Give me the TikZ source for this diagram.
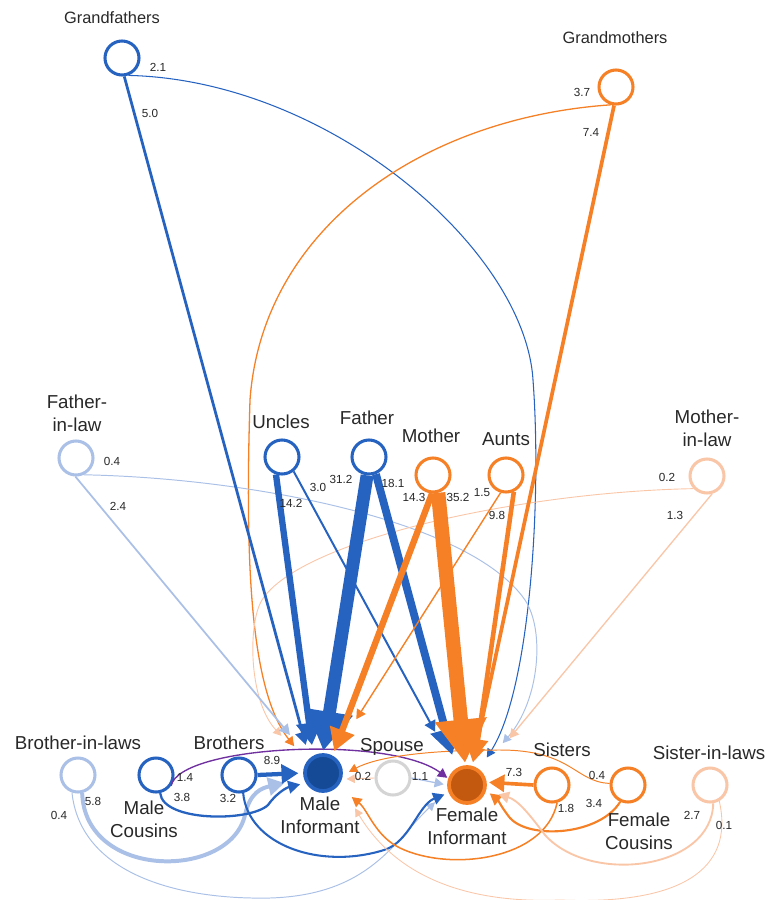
\documentclass[tikz,border=0pt]{standalone}
\usepackage{fontspec}
\setmainfont{Liberation Sans}
\usetikzlibrary{arrows.meta}

\definecolor{blu}{RGB}{38,98,192}
\definecolor{arancio}{RGB}{245,128,37}
\definecolor{azzurro}{RGB}{170,192,230}
\definecolor{pesca}{RGB}{250,198,168}
\definecolor{grigio}{RGB}{212,212,212}
\definecolor{blunotte}{RGB}{20,74,150}
\definecolor{ruggine}{RGB}{195,88,15}
\definecolor{viola}{RGB}{112,48,160}
\definecolor{testo}{RGB}{40,40,40}

\tikzset{
  kin/.style={circle, minimum size=1.02cm, inner sep=0pt, line width=2.6pt, fill=white},
  ego/.style={circle, minimum size=1.08cm, inner sep=0pt, line width=3.2pt},
  nome/.style={font=\fontsize{16}{19.5}\selectfont, text=testo, align=center, inner sep=0pt},
  nonno/.style={font=\fontsize{14}{17}\selectfont, text=testo, inner sep=0pt},
  val/.style={font=\fontsize{10}{12}\selectfont, text=testo, inner sep=0pt},
  freccia/.style={-{Triangle[length=5pt 2.6, width=5pt 3]}}
}

\begin{document}
\begin{tikzpicture}[x=0.03cm, y=-0.03cm]
\useasboundingbox (0,0) rectangle (768,900);

% nonni
\node[kin, draw=blu] (gf) at (122,58) {};
\node[kin, draw=arancio] (gm) at (616,87) {};

% genitori, zii, suoceri
\node[kin, draw=azzurro] (fil) at (76,458) {};
\node[kin, draw=blu] (unc) at (282,457) {};
\node[kin, draw=blu] (fat) at (369,457) {};
\node[kin, draw=arancio] (mot) at (433,475) {};
\node[kin, draw=arancio] (aun) at (506,475) {};
\node[kin, draw=pesca] (mil) at (707,476) {};

% stessa generazione
\node[kin, draw=azzurro] (bil) at (78,775) {};
\node[kin, draw=blu] (mc) at (156,775) {};
\node[kin, draw=blu] (bro) at (239,775) {};
\node[ego, draw=blu, fill=blunotte] (mi) at (323,773) {};
\node[kin, draw=grigio] (sp) at (393,778) {};
\node[ego, draw=arancio, fill=ruggine] (fi) at (467,785) {};
\node[kin, draw=arancio] (sis) at (552,785) {};
\node[kin, draw=arancio] (fc) at (628,785) {};
\node[kin, draw=pesca] (sil) at (710,785) {};

% archi curvi
\draw[freccia, blu, line width=0.9pt, shorten >=12pt] (gf.-70) .. controls (330,80) and (525,250) .. (533,380) .. controls (542,500) and (530,690) .. (fi.52);
\draw[freccia, arancio, line width=1.1pt, shorten >=17pt] (gm.-106) .. controls (420,118) and (262,230) .. (250,400) .. controls (245,560) and (250,690) .. (mi.146);
\draw[freccia, azzurro, line width=0.83pt, shorten >=30pt] (fil.-65) .. controls (250,478) and (470,520) .. (525,600) .. controls (545,630) and (540,700) .. (fi.50);
\draw[freccia, pesca, line width=0.77pt, shorten >=31pt] (mil.-137) .. controls (520,492) and (300,540) .. (262,600) .. controls (248,622) and (248,700) .. (mi.148);
\draw[freccia, azzurro, line width=3.4pt, shorten >=17pt] (bil.-77) .. controls (85,880) and (230,880) .. (245,815) .. controls (250,792) and (262,788) .. (mi.-164);
\draw[freccia, azzurro, line width=0.83pt, shorten >=15pt] (bil.-109) .. controls (80,870) and (170,900) .. (270,898) .. controls (370,895) and (395,840) .. (fi.-165);
\draw[freccia, viola, line width=1.16pt, shorten >=1pt] (mc.-35) .. controls (180,745) and (390,735) .. (fi.161);
\draw[freccia, blu, line width=1.95pt, shorten >=5pt] (mc.-77) .. controls (163,822) and (250,822) .. (268,805) .. controls (275,795) and (285,788) .. (mi.-150);
\draw[freccia, blu, line width=1.76pt, shorten >=4pt] (bro.-77) .. controls (248,845) and (320,870) .. (384,850) .. controls (410,842) and (418,805) .. (fi.-157);
\draw[freccia, arancio, line width=1.29pt, shorten >=15pt] (sis.-74) .. controls (545,860) and (450,872) .. (400,848) .. controls (375,836) and (368,810) .. (mi.-41);
\draw[freccia, arancio, line width=1.82pt, shorten >=4pt] (fc.-115) .. controls (600,835) and (530,840) .. (510,818) .. controls (502,808) and (498,800) .. (fi.-16);
\draw[freccia, arancio, line width=0.83pt, shorten >=6pt] (fc.175) .. controls (575,782) and (572,750) .. (500,750) .. controls (420,750) and (375,758) .. (mi.-6);
\draw[freccia, pesca, line width=1.59pt, shorten >=11pt] (sil.-80) .. controls (712,870) and (590,885) .. (545,835) .. controls (530,815) and (518,800) .. (fi.-17);
\draw[freccia, pesca, line width=0.73pt, shorten >=25pt] (sil.-60) .. controls (735,870) and (680,905) .. (560,900) .. controls (430,905) and (380,850) .. (mi.-31);

% archi diritti
\draw[freccia, blu, line width=2.35pt, shorten >=12pt] (gf.-83) -- (mi.133);
\draw[freccia, arancio, line width=3.14pt, shorten >=3pt] (gm.-96) -- (fi.75);
\draw[freccia, azzurro, line width=1.49pt, shorten >=26pt] (fil.-92) -- (mi.133);
\draw[freccia, pesca, line width=1.13pt, shorten >=37pt] (mil.-74) -- (fi.42);
\draw[freccia, blu, line width=1.69pt, shorten >=36pt] (unc.-51) -- (fi.126);
\draw[freccia, blu, line width=5.39pt, shorten >=9pt] (unc.-109) -- (mi.119);
\draw[freccia, blu, line width=6.67pt, shorten >=12pt] (fat.-68) -- (fi.124);
\draw[freccia, blu, line width=11pt, shorten >=2pt] (fat.-96) -- (mi.90);
\draw[freccia, arancio, line width=1.2pt, shorten >=37pt] (aun.-107) -- (mi.60);
\draw[freccia, arancio, line width=3.93pt, shorten >=8pt] (aun.-65) -- (fi.69);
\draw[freccia, arancio, line width=5.42pt, shorten >=4pt] (mot.-93) -- (mi.61);
\draw[freccia, arancio, line width=12.3pt, shorten >=2pt] (mot.-74) -- (fi.95);
\draw[freccia, blu, line width=3.64pt, shorten >=4pt] (bro.0) -- (mi.180);
\draw[freccia, pesca, line width=0.77pt, shorten >=4pt] (sp.180) -- (mi.-18);
\draw[freccia, azzurro, line width=1.06pt, shorten >=3pt] (sp.0) -- (fi.180);
\draw[freccia, arancio, line width=3.11pt, shorten >=2pt] (sis.180) -- (fi.8);

% nomi
\node[nonno] (t-gf) at (112,18) {Grandfathers};
\node[nonno] (t-gm) at (615,38) {Grandmothers};
\node[nome] (t-fil) at (77,413) {Father-\\in-law};
\node[nome] (t-unc) at (281,422) {Uncles};
\node[nome] (t-fat) at (367,418) {Father};
\node[nome] (t-mot) at (431,436) {Mother};
\node[nome] (t-aun) at (506,439) {Aunts};
\node[nome] (t-mil) at (707,428) {Mother-\\in-law};
\node[nome] (t-bil) at (78,743) {Brother-in-laws};
\node[nome] (t-mc) at (144,819) {Male\\Cousins};
\node[nome] (t-bro) at (229,743) {Brothers};
\node[nome] (t-mi) at (320,815) {Male\\Informant};
\node[nome] (t-sp) at (392,747) {Spouse};
\node[nome] (t-fi) at (467,826) {Female\\Informant};
\node[nome] (t-sis) at (562,750) {Sisters};
\node[nome] (t-fc) at (639,831) {Female\\Cousins};
\node[nome] (t-sil) at (709,753) {Sister-in-laws};

% valori
\node[val] (v-gf-fi) at (158,67) {2.1};
\node[val] (v-gf-mi) at (150,113) {5.0};
\node[val] (v-gm-mi) at (582,92) {3.7};
\node[val] (v-gm-fi) at (591,132) {7.4};
\node[val] (v-fil-fi) at (112,461) {0.4};
\node[val] (v-fil-mi) at (118,506) {2.4};
\node[val] (v-unc-fi) at (318,487) {3.0};
\node[val] (v-unc-mi) at (291,503) {14.2};
\node[val] (v-fat-mi) at (341,479) {31.2};
\node[val] (v-fat-fi) at (393,483) {18.1};
\node[val] (v-mot-mi) at (414,497) {14.3};
\node[val] (v-mot-fi) at (458,497) {35.2};
\node[val] (v-aun-mi) at (482,493) {1.5};
\node[val] (v-aun-fi) at (497,515) {9.8};
\node[val] (v-mil-mi) at (667,477) {0.2};
\node[val] (v-mil-fi) at (675,515) {1.3};
\node[val] (v-bil-mi) at (93,801) {5.8};
\node[val] (v-bil-fi) at (59,815) {0.4};
\node[val] (v-mc-fi) at (185,777) {1.4};
\node[val] (v-mc-mi) at (182,797) {3.8};
\node[val] (v-bro-mi) at (272,760) {8.9};
\node[val] (v-bro-fi) at (228,798) {3.2};
\node[val] (v-sp-mi) at (363,776) {0.2};
\node[val] (v-sp-fi) at (420,776) {1.1};
\node[val] (v-sis-fi) at (514,772) {7.3};
\node[val] (v-sis-mi) at (566,808) {1.8};
\node[val] (v-fc-fi) at (594,803) {3.4};
\node[val] (v-fc-mi) at (597,775) {0.4};
\node[val] (v-sil-fi) at (692,815) {2.7};
\node[val] (v-sil-mi) at (724,825) {0.1};

\end{tikzpicture}
\end{document}
